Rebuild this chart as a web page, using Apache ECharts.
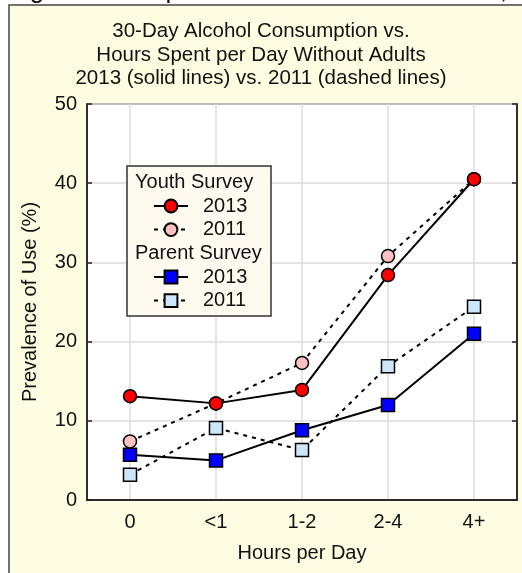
<!DOCTYPE html>
<html>
<head>
<meta charset="utf-8">
<script src="https://cdn.jsdelivr.net/npm/echarts@6/dist/echarts.min.js"></script>
<style>
html, body { margin: 0; padding: 0; background: #fff; }
#chart { width: 522px; height: 573px; }
</style>
</head>
<body>
<div id="chart"></div>
<script>
// categorias del eje x
var hours = ['0', '<1', '1-2', '2-4', '4+'];

// valores (%)
var youth2013 = [13.1, 12.2, 13.9, 28.4, 40.5];
var youth2011 = [7.4, 12.2, 17.3, 30.8, 40.5];
var parent2013 = [5.7, 5.0, 8.8, 12.0, 21.0];
var parent2011 = [3.2, 9.1, 6.3, 16.9, 24.4];

var yMin = 0;
var yMax = 50;
var yStep = 10;

var font = '"Liberation Sans", Arial, sans-serif';

function makeSeries(name, values, symbol, fill, dashed) {
    return {
        name: name,
        type: 'line',
        data: values,
        symbol: symbol,
        symbolSize: 13,
        showSymbol: true,
        lineStyle: { color: '#000', width: 2, type: dashed ? [4, 5] : 'solid' },
        itemStyle: { color: fill, borderColor: '#000', borderWidth: 1.5 },
        emphasis: { disabled: true }
    };
}

function legendFor(names, top) {
    return {
        data: names,
        orient: 'vertical',
        left: 153,
        top: top,
        padding: 0,
        itemWidth: 34,
        itemHeight: 16,
        itemGap: 3.6,
        selectedMode: false,
        z: 10,
        formatter: function (name) {
            return name.split(' ')[1];
        },
        textStyle: { fontFamily: font, fontSize: 20, color: '#111', padding: [0, 0, 0, 10] }
    };
}

var chart = echarts.init(document.getElementById('chart'));

var option = {
    animation: false,
    textStyle: { fontFamily: font },
    title: {
        text: '30-Day Alcohol Consumption vs.\nHours Spent per Day Without Adults\n2013 (solid lines) vs. 2011 (dashed lines)',
        left: 'center',
        top: 20,
        padding: [0, 0, 0, 18],
        textStyle: { fontFamily: font, fontSize: 20.5, fontWeight: 'normal', color: '#111', lineHeight: 23.3 }
    },
    graphic: [
        {
            type: 'rect', z: -10, silent: true,
            shape: { x: 9, y: 5, width: 530, height: 590 },
            style: { fill: '#FFFDE1', stroke: '#444', lineWidth: 1.5 }
        },
        {
            // titulo de la figura, cortado por el borde superior
            type: 'text', z: -5, silent: true, x: 8, y: -22,
            style: { text: 'Figure 4 Comparison of Youth and Parents, Hours per Day Without Adults', font: '26px ' + font, fill: '#111', verticalAlign: 'top' }
        },
        {
            type: 'rect', z: 5, silent: true,
            shape: { x: 127, y: 166, width: 144, height: 150 },
            style: { fill: '#FFFAF0', stroke: '#333', lineWidth: 1.5 }
        },
        {
            type: 'text', z: 6, silent: true, x: 135, y: 172,
            style: { text: 'Youth Survey', font: '20px ' + font, fill: '#111', verticalAlign: 'top' }
        },
        {
            type: 'text', z: 6, silent: true, x: 135, y: 243,
            style: { text: 'Parent Survey', font: '20px ' + font, fill: '#111', verticalAlign: 'top' }
        }
    ],
    legend: [
        legendFor(['Youth 2013', 'Youth 2011'], 196),
        legendFor(['Parent 2013', 'Parent 2011'], 267)
    ],
    grid: {
        left: 87, right: 5, top: 104, bottom: 73,
        show: true, backgroundColor: '#fff', borderColor: '#222', borderWidth: 1.5
    },
    xAxis: [
        {
            type: 'category',
            data: hours,
            boundaryGap: true,
            name: 'Hours per Day',
            nameLocation: 'middle',
            nameGap: 43,
            nameTextStyle: { fontFamily: font, fontSize: 20, color: '#111' },
            axisLine: { lineStyle: { color: '#222', width: 1.5 } },
            axisTick: { inside: true, alignWithLabel: true, length: 5, lineStyle: { color: '#222', width: 1.5 } },
            axisLabel: { fontFamily: font, fontSize: 20, color: '#111', margin: 12 },
            splitLine: { show: true, alignWithLabel: true, lineStyle: { color: '#ddd', width: 1.5 } }
        },
        {
            type: 'category',
            data: hours,
            position: 'top',
            axisLine: { lineStyle: { color: '#222', width: 1.5 } },
            axisTick: { inside: true, alignWithLabel: true, length: 5, lineStyle: { color: '#222', width: 1.5 } },
            axisLabel: { show: false },
            splitLine: { show: false }
        }
    ],
    yAxis: [
        {
            type: 'value',
            min: yMin, max: yMax, interval: yStep,
            name: 'Prevalence of Use (%)',
            nameLocation: 'middle',
            nameGap: 47,
            nameTextStyle: { fontFamily: font, fontSize: 20, color: '#111' },
            axisLine: { show: true, lineStyle: { color: '#222', width: 1.5 } },
            axisTick: { show: true, inside: true, length: 5, lineStyle: { color: '#222', width: 1.5 } },
            axisLabel: { fontFamily: font, fontSize: 20, color: '#111', margin: 10 },
            splitLine: { show: true, lineStyle: { color: '#ddd', width: 1.5 } }
        },
        {
            type: 'value',
            min: yMin, max: yMax, interval: yStep,
            position: 'right',
            axisLine: { show: true, lineStyle: { color: '#222', width: 1.5 } },
            axisTick: { show: true, inside: true, length: 5, lineStyle: { color: '#222', width: 1.5 } },
            axisLabel: { show: false },
            splitLine: { show: false }
        }
    ],
    series: [
        makeSeries('Parent 2011', parent2011, 'rect', '#CCE6FA', true),
        makeSeries('Parent 2013', parent2013, 'rect', '#0000FF', false),
        makeSeries('Youth 2011', youth2011, 'circle', '#FFC0C0', true),
        makeSeries('Youth 2013', youth2013, 'circle', '#FF0000', false)
    ]
};

chart.setOption(option);
</script>
</body>
</html>
